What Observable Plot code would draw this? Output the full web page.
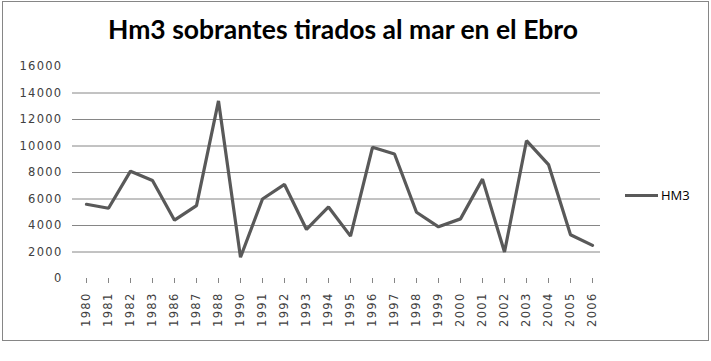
<!DOCTYPE html>
<html>
<head>
<meta charset="utf-8">
<script src="https://cdn.jsdelivr.net/npm/d3@7"></script>
<script src="https://cdn.jsdelivr.net/npm/@observablehq/plot@0.6"></script>
<style>
  body { margin: 0; background: #fff; }
  #wrap { position: relative; width: 711px; height: 361px; overflow: hidden; background: #fff; }
  #frame { position: absolute; left: 2px; top: 1px; width: 705px; height: 338px; border: 1px solid #868686; }
  #title { position: absolute; left: 0; top: 13px; width: 686px; text-align: center;
           font-family: Lato, "Open Sans", sans-serif; font-weight: bold; font-size: 26.5px; color: #000; }
  #legend { position: absolute; left: 625px; top: 186px; font-family: "Open Sans", sans-serif; font-size: 13px; color: #000; display: flex; align-items: center; }
  #legend .sw { width: 33px; height: 3px; background: #595959; margin-right: 3px; }
  #chart { position: absolute; left: 0; top: 0; }
  #chart svg text { letter-spacing: 1.3px; }
</style>
</head>
<body>
<div id="wrap">
  <div id="frame"></div>
  <div id="chart"></div>
  <div id="title">Hm3 sobrantes tirados al mar en el Ebro</div>
  <div id="legend"><div class="sw"></div><span id="legendLabel"></span></div>
</div>
<script>
const years = ["1980","1981","1982","1983","1986","1987","1988","1990","1991","1992","1993","1994","1995","1996","1997","1998","1999","2000","2001","2002","2003","2004","2005","2006"];
const hm3 = [5600,5300,8100,7400,4400,5500,13400,1600,6000,7100,3700,5400,3200,9900,9400,5000,3900,4500,7500,2000,10400,8600,3300,2500];
const seriesName = "HM3";
const yTicks = [0,2000,4000,6000,8000,10000,12000,14000,16000];
const gridValues = [2000,4000,6000,8000,10000,12000,14000];

const data = years.map((y, i) => ({year: y, value: hm3[i]}));
document.getElementById("legendLabel").textContent = seriesName;

const chart = Plot.plot({
  width: 711,
  height: 361,
  marginLeft: 78,
  marginRight: 112,
  marginTop: 66,
  marginBottom: 83,
  style: { fontFamily: "DejaVu Sans, sans-serif", color: "#404040", background: "transparent", overflow: "visible" },
  x: { type: "point", domain: years, padding: 0 },
  y: { domain: [0, 16000] },
  marks: [
    Plot.ruleY(gridValues, { stroke: "#868686", strokeWidth: 1, insetLeft: -6, insetRight: -1 }),
    Plot.axisY({ ticks: yTicks, tickSize: 0, tickPadding: 16, label: null, fontSize: 11.5, fill: "#404040", tickFormat: d => String(d) }),
    Plot.axisX({ tickRotate: -90, tickSize: 5, tickPadding: 9, label: null, fontSize: 11.5, fill: "#404040", stroke: "#868686" }),
    Plot.line(data, { x: "year", y: "value", stroke: "#595959", strokeWidth: 3.2, strokeLinejoin: "miter" })
  ]
});
document.getElementById("chart").appendChild(chart);
</script>
</body>
</html>
